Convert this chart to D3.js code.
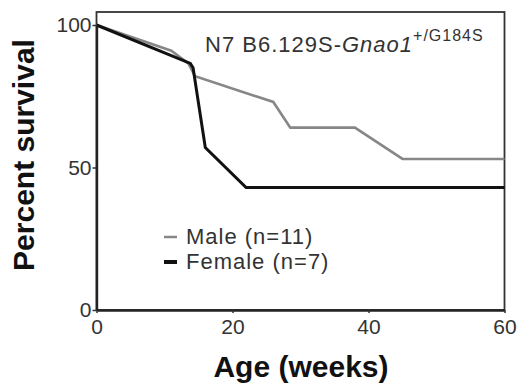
<!DOCTYPE html>
<html><head><meta charset="utf-8">
<script src="https://cdn.jsdelivr.net/npm/d3@7"></script>
<style>body{margin:0;background:#fff}svg{display:block}text{font-family:Arial,"Liberation Sans",sans-serif}</style>
</head><body><svg id="c" width="519" height="383"></svg>
<script>
const maleWeeks   = [0, 11, 13.5, 14.5, 26, 28.5, 38, 45, 60];
const maleSurv    = [100, 91, 86.5, 82, 73, 64, 64, 53, 53];
const femaleWeeks = [0, 13.8, 14.2, 16, 22, 60];
const femaleSurv  = [100, 86.5, 85, 57, 43, 43];
const xTicks = [0, 20, 40, 60];
const yTicks = [0, 50, 100];
const seriesNames = ["Male (n=11)", "Female (n=7)"];

const svg = d3.select("#c");
const L = 96.5, R = 504.5, B = 310, T = 12;
const x = d3.scaleLinear().domain([0, 60]).range([L, R]);
const y = d3.scaleLinear().domain([0, 100]).range([B, 25]);

// frame
svg.append("rect").attr("x", L).attr("y", T).attr("width", R - L).attr("height", B - T)
  .attr("fill", "none").attr("stroke", "#333").attr("stroke-width", 1.8);

const line = d3.line().x(d => x(d[0])).y(d => y(d[1]));
const male = maleWeeks.map((w, i) => [w, maleSurv[i]]);
const female = femaleWeeks.map((w, i) => [w, femaleSurv[i]]);

svg.append("path").datum(male).attr("d", line).attr("fill", "none")
  .attr("stroke", "#878787").attr("stroke-width", 2.6).attr("stroke-linejoin", "miter");
svg.append("path").datum(female).attr("d", line).attr("fill", "none")
  .attr("stroke", "#111").attr("stroke-width", 3).attr("stroke-linejoin", "miter");

// axes
const xa = svg.append("g").attr("transform", `translate(0,${B})`)
  .call(d3.axisBottom(x).tickValues(xTicks).tickSize(3).tickPadding(6).tickSizeOuter(0));
const ya = svg.append("g").attr("transform", `translate(${L},0)`)
  .call(d3.axisLeft(y).tickValues(yTicks).tickSize(4).tickPadding(1).tickSizeOuter(0));
[xa, ya].forEach(g => {
  g.select(".domain").attr("stroke", "#222").attr("stroke-width", 2.4);
  g.selectAll(".tick line").attr("stroke", "#333").attr("stroke-width", 1.5);
  g.selectAll(".tick text").attr("fill", "#333").style("font-size", "21px").style("font-family", "Arial, 'Liberation Sans', sans-serif");
});

// axis titles
svg.append("text").attr("x", 301).attr("y", 377).attr("text-anchor", "middle")
  .style("font-size", "30px").style("font-weight", "bold").attr("fill", "#111").text("Age (weeks)");
svg.append("text").attr("transform", "translate(34,155) rotate(-90)").attr("text-anchor", "middle")
  .style("font-size", "30px").style("font-weight", "bold").attr("fill", "#111").text("Percent survival");

// strain label
const t = svg.append("text").attr("x", 205).attr("y", 52).attr("fill", "#333")
  .style("font-size", "22px").style("letter-spacing", "1px");
t.append("tspan").text("N7 B6.129S-");
t.append("tspan").style("font-style", "italic").text("Gnao1");
t.append("tspan").attr("dy", -11).style("font-size", "16px").text("+/G184S");

// legend
const colors = ["#878787", "#111"];
const widths = [2.5, 4];
seriesNames.forEach((n, i) => {
  const yy = 244 + i * 25;
  svg.append("line").attr("x1", 164).attr("x2", 177).attr("y1", yy - 7).attr("y2", yy - 7)
    .attr("stroke", colors[i]).attr("stroke-width", widths[i]);
  svg.append("text").attr("x", 186).attr("y", yy).attr("fill", "#333")
    .style("font-size", "22px").style("letter-spacing", "1px").text(n);
});
</script></body></html>
